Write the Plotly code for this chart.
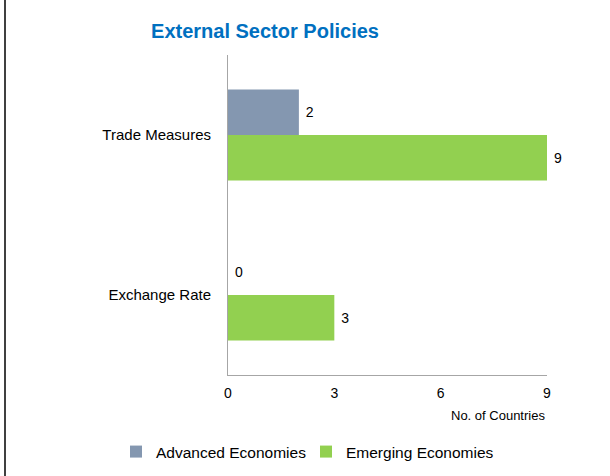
import plotly.graph_objects as go

categories = ["Trade Measures", "Exchange Rate"]
advanced = [2, 0]
emerging = [9, 3]
x_ticks = [0, 3, 6, 9]

FONT = "Liberation Sans, Arial, sans-serif"
PLOT_W = 610 - 228 - 63
PLOT_H = 476 - 55 - 101

fig = go.Figure()
fig.add_trace(go.Bar(
    name="Advanced Economies", y=categories, x=advanced, orientation="h",
    marker=dict(color="#8497B0", line=dict(width=0)),
    texttemplate="\u00a0%{x}", textposition="outside",
    textfont=dict(size=14, color="#000000", family=FONT), cliponaxis=False,
))
fig.add_trace(go.Bar(
    name="Emerging Economies", y=categories, x=emerging, orientation="h",
    marker=dict(color="#92D050", line=dict(width=0)),
    texttemplate="\u00a0%{x}", textposition="outside",
    textfont=dict(size=14, color="#000000", family=FONT), cliponaxis=False,
))

fig.update_layout(
    width=610, height=476,
    margin=dict(l=228, r=63, t=55, b=101, autoexpand=False),
    paper_bgcolor="white", plot_bgcolor="white",
    font=dict(family=FONT, color="#000000"),
    barmode="group", bargap=0.43, bargroupgap=0,
    title=dict(text="<b>External Sector Policies</b>", x=265/610, xanchor="center",
               y=1 - 31/476, yanchor="middle", xref="container", yref="container",
               font=dict(size=20, color="#0070C0", family=FONT)),
    xaxis=dict(range=[0, 9], tickvals=x_ticks, ticktext=[str(t) for t in x_ticks],
               showgrid=False, zeroline=False, showline=True, linecolor="#A6A6A6",
               linewidth=1, ticks="", tickfont=dict(size=14), ticklabelstandoff=5),
    yaxis=dict(categoryorder="array", categoryarray=categories, autorange="reversed",
               showgrid=False, zeroline=False, showline=True, linecolor="#A6A6A6",
               linewidth=1, ticks="", tickfont=dict(size=15), ticklabelstandoff=13),
    legend=dict(orientation="h", x=(116 - 228) / PLOT_W, xanchor="left", xref="paper",
                y=-(452 - 375) / PLOT_H, yanchor="middle", yref="paper",
                font=dict(size=15.5), entrywidth=145, entrywidthmode="pixels",
                traceorder="normal"),
    showlegend=True,
    shapes=[dict(type="line", xref="paper", yref="paper",
                 x0=-223/PLOT_W, x1=-223/PLOT_W, y0=-101/PLOT_H, y1=1 + 55/PLOT_H,
                 line=dict(color="#404040", width=2))],
    annotations=[dict(text="No. of Countries", xref="x", x=9, xanchor="right",
                      yref="paper", y=-40/PLOT_H, yanchor="middle", showarrow=False,
                      font=dict(size=13, family=FONT))],
)

fig.write_html("out.html")
